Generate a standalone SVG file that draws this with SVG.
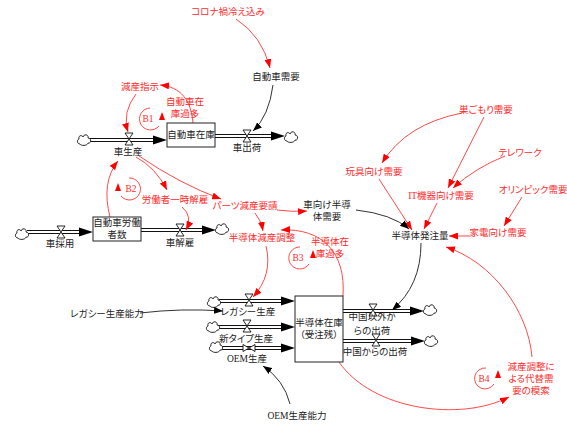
<svg xmlns="http://www.w3.org/2000/svg" xmlns:xlink="http://www.w3.org/1999/xlink" width="567" height="436" viewBox="0 0 567 436">
<style>
text{font-family:"Liberation Serif","Noto Sans CJK JP",sans-serif;font-size:9.5px;text-anchor:middle;dominant-baseline:central;font-feature-settings:"palt";}
.r{fill:#ff2a2a;}
.k{fill:#222;}
.box{fill:#fff;stroke:#222;stroke-width:1;}
.pipe{fill:none;stroke:#111;stroke-width:4;}
.pipein{fill:none;stroke:#fff;stroke-width:2;}
.rl{fill:none;stroke:#ff4a4a;stroke-width:1;marker-end:url(#ar);}
.kl{fill:none;stroke:#333;stroke-width:1;marker-end:url(#ak);}
.loop{fill:none;stroke:#ff4a4a;stroke-width:1;}
</style>
<defs>
<marker id="ar" markerUnits="userSpaceOnUse" markerWidth="9" markerHeight="7" refX="9" refY="3.5" orient="auto"><path d="M0,0L9,3.5L0,7z" fill="#ff0000"/></marker>
<marker id="ak" markerUnits="userSpaceOnUse" markerWidth="9" markerHeight="7" refX="9" refY="3.5" orient="auto"><path d="M0,0L9,3.5L0,7z" fill="#000"/></marker>
<symbol id="cloud" overflow="visible"><path d="M-4,4C-7,4 -7.5,0 -5,-1C-6,-4.5 -2,-5.5 -1,-3C0,-6.5 5,-5.5 4,-2C7.5,-2 7.5,3.5 4,3.2C3,6 -3,6 -4,4Z" fill="#fff" stroke="#111" stroke-width="0.9"/></symbol>
<symbol id="valve" overflow="visible"><polygon points="-4,-6 4,-6 -4,6 4,6" fill="#fff" stroke="#111" stroke-width="0.9"/></symbol>
<symbol id="bvalve" overflow="visible"><polygon points="-6,-3.5 6,3.5 6,-3.5 -6,3.5" fill="#fff" stroke="#111" stroke-width="0.9"/></symbol>
<symbol id="fh" overflow="visible"><path d="M0,-4.5L14,0L0,4.5z" fill="#000"/></symbol>
<symbol id="lh" overflow="visible"><path d="M-3,4L0,-4L3,4z" fill="#ff0000"/></symbol>
</defs>
<rect width="567" height="436" fill="#fff"/>

<g id="flows">
<!-- 車生産 -->
<path class="pipe" d="M89,140H153"/><path class="pipein" d="M89,140H153"/><use href="#fh" x="153" y="140"/>
<use href="#cloud" x="84" y="140"/>
<!-- 車出荷 -->
<path class="pipe" d="M215,136H271"/><path class="pipein" d="M215,136H271"/><use href="#fh" x="271" y="136"/>
<use href="#cloud" x="291" y="137"/>
<!-- 車採用 -->
<path class="pipe" d="M27,232H79"/><path class="pipein" d="M27,232H79"/><use href="#fh" x="79" y="232"/>
<use href="#cloud" x="22" y="234"/>
<!-- 車解雇 -->
<path class="pipe" d="M141,230H202"/><path class="pipein" d="M141,230H202"/><use href="#fh" x="202" y="230"/>
<use href="#cloud" x="222" y="229"/>
<!-- レガシー生産 -->
<path class="pipe" d="M219,301H281"/><path class="pipein" d="M219,301H281"/><use href="#fh" x="281" y="301"/>
<use href="#cloud" x="214" y="302"/>
<!-- 新タイプ生産 -->
<path class="pipe" d="M218,327H281"/><path class="pipein" d="M218,327H281"/><use href="#fh" x="281" y="327"/>
<use href="#cloud" x="213" y="327"/>
<!-- OEM生産 -->
<path class="pipe" d="M221,348H281"/><path class="pipein" d="M221,348H281"/><use href="#fh" x="281" y="348"/>
<use href="#cloud" x="216" y="347"/>
<!-- 中国以外からの出荷 -->
<path class="pipe" d="M343,311H410"/><path class="pipein" d="M343,311H410"/><use href="#fh" x="410" y="311"/>
<use href="#cloud" x="430" y="310"/>
<!-- 中国からの出荷 -->
<path class="pipe" d="M343,341H411"/><path class="pipein" d="M343,341H411"/><use href="#fh" x="411" y="341"/>
<use href="#cloud" x="431" y="341"/>
</g>

<g id="connectors">
<path class="rl" d="M236,19Q262,36 270,68"/>
<path class="rl" d="M193,123C191,100 181,87 160,85"/>
<path class="rl" d="M136,94Q122,112 128,132"/>
<path class="kl" d="M273,85Q269,116 253,131"/>
<path class="rl" d="M110,217Q101,182 118,161"/>
<path class="rl" d="M136,157Q156,168 167,190"/>
<path class="rl" d="M139,156Q180,184 221,199"/>
<path class="rl" d="M182,207Q193,216 186,230"/>
<path class="rl" d="M277,210Q292,212 307,211"/>
<path class="rl" d="M255,213Q261,220 263,231"/>
<path class="rl" d="M343,296C346,252 322,228 281,230"/>
<path class="rl" d="M266,246Q273,275 253,297"/>
<path class="rl" d="M462,113Q406,124 382,163"/>
<path class="rl" d="M484,117L448,188"/>
<path class="rl" d="M505,156Q475,168 453,188"/>
<path class="rl" d="M522,197L504,226"/>
<path class="rl" d="M470,236L449,236"/>
<path class="rl" d="M379,179L412,230"/>
<path class="rl" d="M437,203L424,229"/>
<path class="rl" d="M339,362C372,410 460,422 509,397"/>
<path class="rl" d="M532,357C528,310 492,262 446,247"/>
<path class="kl" d="M356,210Q392,214 409,229"/>
<path class="kl" d="M421,243Q421,286 392,310"/>
<path class="kl" d="M140,313Q182,308 223,311"/>
<path class="kl" d="M290,404Q284,380 263,366"/>
</g>

<g id="loops">
<g id="B1"><path class="loop" d="M150,108A11,11 0 1 0 159,126"/><use href="#lh" x="162" y="116"/><text class="r" x="148" y="119">B1</text></g>
<g id="B2"><path class="loop" d="M129,178A11,11 0 1 1 121,196"/><use href="#lh" x="118" y="187"/><text class="r" x="131" y="189">B2</text></g>
<g id="B3"><path class="loop" d="M300,247A11,11 0 1 0 309,264"/><use href="#lh" x="313" y="254"/><text class="r" x="298" y="258">B3</text></g>
<g id="B4"><path class="loop" d="M486,368A10.5,10.5 0 1 0 494,384"/><use href="#lh" x="498" y="374"/><text class="r" x="484" y="379">B4</text></g>
</g>

<g id="n-corona"><text class="r" x="228" y="12">コロナ禍冷え込み</text></g>
<g id="n-cardemand"><text class="k" x="276" y="77">自動車需要</text></g>
<g id="n-gensan"><text class="r" x="140" y="87">減産指示</text></g>
<g id="n-carinvexcess"><text class="r" x="185" y="102">自動車在</text><text class="r" x="185" y="114">庫過多</text></g>
<g id="n-carinv"><rect class="box" x="167" y="123" width="48" height="24"/><text class="k" x="191" y="135">自動車在庫</text></g>
<g id="n-carprod"><use href="#valve" x="129" y="139"/><text class="k" x="128" y="152">車生産</text></g>
<g id="n-carship"><use href="#valve" x="247" y="136"/><text class="k" x="247" y="148">車出荷</text></g>
<g id="n-workers"><rect class="box" x="93" y="217" width="48" height="24"/><text class="k" x="117" y="223">自動車労働</text><text class="k" x="117" y="235">者数</text></g>
<g id="n-hire"><use href="#valve" x="61" y="232"/><text class="k" x="60" y="244">車採用</text></g>
<g id="n-fire"><use href="#valve" x="180" y="230"/><text class="k" x="180" y="243">車解雇</text></g>
<g id="n-layoff"><text class="r" x="175" y="200">労働者一時解雇</text></g>
<g id="n-parts"><text class="r" x="245" y="206">パーツ減産要請</text></g>
<g id="n-carsemi"><text class="k" x="327" y="205">車向け半導</text><text class="k" x="327" y="217">体需要</text></g>
<g id="n-semiadj"><text class="r" x="262" y="238">半導体減産調整</text></g>
<g id="n-semiexcess"><text class="r" x="330" y="242">半導体在</text><text class="r" x="330" y="254">庫過多</text></g>
<g id="n-order"><text class="k" x="420" y="236">半導体発注量</text></g>
<g id="n-toy"><text class="r" x="374" y="172">玩具向け需要</text></g>
<g id="n-sugomori"><text class="r" x="486" y="110">巣ごもり需要</text></g>
<g id="n-telework"><text class="r" x="520" y="153">テレワーク</text></g>
<g id="n-it"><text class="r" x="441" y="196">IT機器向け需要</text></g>
<g id="n-olympic"><text class="r" x="533" y="190">オリンピック需要</text></g>
<g id="n-kaden"><text class="r" x="498" y="233">家電向け需要</text></g>
<g id="n-alt"><text class="r" x="531" y="367">減産調整に</text><text class="r" x="531" y="379">よる代替需</text><text class="r" x="531" y="391">要の模索</text></g>
<g id="n-semiinv"><rect class="box" x="295" y="296" width="48" height="66"/><text class="k" x="319" y="323">半導体在庫</text><text class="k" x="319" y="335">（受注残）</text></g>
<g id="n-legacy"><use href="#valve" x="249" y="300"/><text class="k" x="248" y="312">レガシー生産</text></g>
<g id="n-newtype"><use href="#valve" x="247" y="326"/><text class="k" x="246" y="339">新タイプ生産</text></g>
<g id="n-oem"><use href="#bvalve" x="249" y="348"/><text class="k" x="247" y="359">OEM生産</text></g>
<g id="n-shipother"><use href="#valve" x="373" y="310"/><text class="k" x="372" y="317">中国以外か</text><text class="k" x="372" y="331">らの出荷</text></g>
<g id="n-shipchina"><use href="#valve" x="376" y="340"/><text class="k" x="375" y="352">中国からの出荷</text></g>
<g id="n-legacycap"><text class="k" x="107" y="314">レガシー生産能力</text></g>
<g id="n-oemcap"><text class="k" x="297" y="416">OEM生産能力</text></g>
</svg>
